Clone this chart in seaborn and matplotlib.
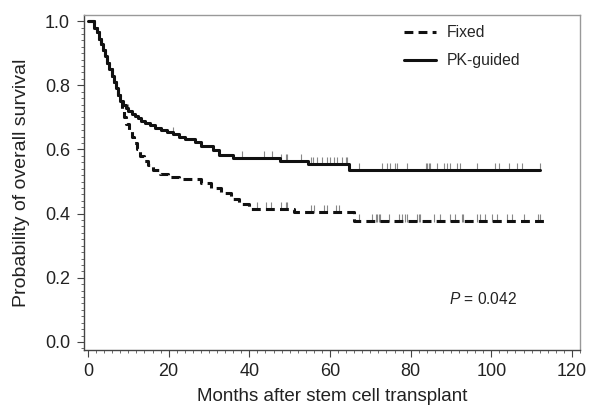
import numpy as np
import pandas as pd
import matplotlib
matplotlib.use("Agg")
import matplotlib.pyplot as plt
from matplotlib.lines import Line2D
from matplotlib.ticker import MultipleLocator
import seaborn as sns

# ---- data ----
pk_time = [0, 1.6, 2.2, 2.8, 3.3, 3.8, 4.3, 4.8, 5.3, 5.9, 6.4, 6.9, 7.4, 7.9,
           8.6, 9.3, 10.0, 10.8, 11.6, 12.4, 13.2, 14.2, 15.3, 16.5, 18.0, 19.5,
           21.0, 22.5, 24.0, 26.5, 28.0, 31.0, 32.4, 36.0, 47.5, 54.5, 64.8, 112.2]
pk_surv = [1.0, 0.98, 0.965, 0.945, 0.93, 0.91, 0.89, 0.87, 0.85, 0.83, 0.81, 0.79, 0.77, 0.75,
           0.738, 0.728, 0.72, 0.712, 0.705, 0.697, 0.69, 0.682, 0.675, 0.668, 0.662, 0.655,
           0.648, 0.64, 0.632, 0.622, 0.612, 0.598, 0.583, 0.573, 0.565, 0.555, 0.535, 0.535]

fx_time = [0, 1.6, 2.2, 2.8, 3.3, 3.8, 4.3, 4.8, 5.3, 5.9, 6.4, 6.9, 7.4, 7.9,
           8.3, 8.9, 9.5, 10.2, 10.8, 11.5, 12.2, 13.0, 13.8, 14.8, 16.2, 17.8, 19.8,
           22.5, 28.0, 30.5, 33.0, 35.5, 37.5, 40.0, 51.0, 66.0, 113.0]
fx_surv = [1.0, 0.98, 0.965, 0.945, 0.93, 0.91, 0.89, 0.87, 0.85, 0.83, 0.81, 0.79, 0.77, 0.75,
           0.72, 0.70, 0.68, 0.66, 0.64, 0.62, 0.60, 0.58, 0.565, 0.55, 0.537, 0.525, 0.515,
           0.508, 0.495, 0.48, 0.465, 0.445, 0.43, 0.415, 0.405, 0.377, 0.377]

pk_censor = [10.0, 21.0, 38.3, 43.6, 45.7, 47.8, 49.0, 49.4, 52.7, 55.2, 55.9, 56.8, 58.1,
             59.3, 60.1, 60.9, 61.8, 63.0, 63.9, 64.3, 67.2, 73.0, 74.2, 75.0, 76.2, 76.7,
             79.1, 83.7, 84.1, 84.5, 84.9, 86.6, 88.2, 89.0, 89.8, 91.5, 92.3, 96.5, 101.0,
             101.8, 104.3, 106.4, 107.6, 112.1]
fx_censor = [42.0, 44.1, 45.3, 47.8, 49.0, 49.4, 55.2, 56.0, 58.5, 59.3, 61.4, 62.2, 67.2,
             70.5, 71.3, 71.7, 72.1, 72.5, 74.6, 77.0, 77.9, 78.7, 79.1, 81.6, 82.0, 82.4,
             85.7, 87.4, 89.8, 91.1, 92.7, 93.1, 96.5, 97.3, 98.5, 100.2, 101.4, 103.9,
             105.2, 108.0, 111.7, 112.1]

groups = ["Fixed", "PK-guided"]
x_ticks = [0, 20, 40, 60, 80, 100, 120]
y_ticks = [0.0, 0.2, 0.4, 0.6, 0.8, 1.0]

# ---- build table ----
df = pd.concat([
    pd.DataFrame({"Months": fx_time, "Survival": fx_surv, "Group": "Fixed"}),
    pd.DataFrame({"Months": pk_time, "Survival": pk_surv, "Group": "PK-guided"}),
], ignore_index=True)


def step_at(times, surv, t):
    idx = np.searchsorted(np.asarray(times), np.asarray(t), side="right") - 1
    return np.asarray(surv)[idx]


sns.set_style("ticks")
plt.rcParams["font.family"] = ["Liberation Sans", "DejaVu Sans"]
plt.rcParams["mathtext.fontset"] = "custom"
plt.rcParams["mathtext.it"] = "Liberation Sans:italic"
plt.rcParams["mathtext.rm"] = "Liberation Sans"

fig = plt.figure(figsize=(5.92, 4.08), dpi=100)
ax = fig.add_axes([84 / 592, 1 - 350 / 408, (580 - 84) / 592, (350 - 15) / 408])

lw = 2.2
dash = (2.9, 1.7)
sns.lineplot(data=df, x="Months", y="Survival", hue="Group", style="Group",
             palette={"Fixed": "#111111", "PK-guided": "#111111"},
             dashes={"Fixed": dash, "PK-guided": ""},
             estimator=None, sort=False, drawstyle="steps-post",
             linewidth=lw, legend=False, ax=ax)

# censor marks
for ct, tt, ss in [(pk_censor, pk_time, pk_surv), (fx_censor, fx_time, fx_surv)]:
    yv = step_at(tt, ss, ct) + 0.009
    ax.scatter(ct, yv, marker="|", s=30, color="#888888", linewidths=0.8, zorder=1)

ax.set_xlim(-1.0, 122.0)
ax.set_ylim(-0.025, 1.019)
ax.set_xticks(x_ticks)
ax.set_yticks(y_ticks)
ax.set_yticklabels([f"{v:.1f}" for v in y_ticks])
ax.xaxis.set_minor_locator(MultipleLocator(2))
ax.yaxis.set_minor_locator(MultipleLocator(0.02))
ax.tick_params(axis="both", which="major", length=5, width=0.8, color="#444444",
               labelsize=13, labelcolor="#222222", direction="out")
ax.tick_params(axis="x", which="major", pad=4)
ax.tick_params(axis="y", which="major", pad=5)
ax.tick_params(axis="both", which="minor", length=2.5, width=0.6, color="#555555",
               direction="out")
for sp in ax.spines.values():
    sp.set_color("#999999")
    sp.set_linewidth(1.0)
ax.spines["left"].set_color("#444444")
ax.spines["bottom"].set_color("#444444")

ax.set_xlabel("Months after stem cell transplant", fontsize=13.5, color="#222222", labelpad=6)
ax.set_ylabel("Probability of overall survival", fontsize=14, color="#222222", labelpad=11)

handles = [Line2D([], [], color="#111111", lw=lw, dashes=dash),
           Line2D([], [], color="#111111", lw=lw)]
ax.legend(handles, groups, loc="upper left", bbox_to_anchor=(0.617, 1.012),
          frameon=False, fontsize=11.3, handlelength=2.0, handletextpad=0.7,
          labelspacing=0.85)

ax.text(0.735, 0.152, "$P$ = 0.042", transform=ax.transAxes, fontsize=11.2,
        color="#222222", ha="left", va="center")

fig.savefig("out.png", dpi=100)
